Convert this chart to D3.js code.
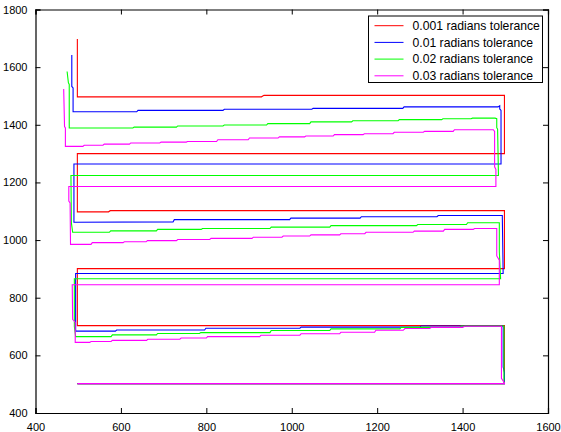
<!DOCTYPE html>
<html>
<head>
<meta charset="utf-8">
<script src="https://cdn.jsdelivr.net/npm/d3@7"></script>
<style>
  body { margin: 0; background: #fff; }
  svg { display: block; font-family: "Liberation Sans", Arial, sans-serif; }
</style>
</head>
<body>
<svg id="chart"></svg>
<script>
const width = 561, height = 432;
const margin = { left: 35.5, right: 13, top: 9.5, bottom: 19 };

const xTicks = [400, 600, 800, 1000, 1200, 1400, 1600];
const yTicks = [400, 600, 800, 1000, 1200, 1400, 1600, 1800];

const seriesNames = ["0.001 radians tolerance", "0.01 radians tolerance", "0.02 radians tolerance", "0.03 radians tolerance"];
const seriesColors = ["#ff0000", "#0000ff", "#00ff00", "#ff00ff"];

// path points [x, y]
const tol001 = [[498,1698],[498,1497],[929,1497],[935,1502],[1498,1502],[1498,1300],[498,1300],[498,1098],[571,1098],[575,1102],[1498,1102],
  [1498,901],[498,901],[498,703],[1498,703],[1498,502],[498,502]];

const tol01 = [[485,1642],[485,1533],[488,1528],[488,1445],[637,1445],[640,1450],[839,1450],[842,1454],[1047,1454],[1050,1457],
  [1260,1457],[1263,1462],[1483,1462],[1487,1466],[1487,1455],[1490,1450],[1490,1264],[490,1264],[490,1062],[722,1063],[725,1071],
  [995,1071],[998,1076],[1160,1076],[1163,1081],[1340,1081],[1343,1085],[1493,1085],[1495,884],[494,884],[494,684],[587,684],[590,688],
  [796,688],[799,694],[1019,694],[1022,698],[1300,698],[1303,702],[1495,702],[1495,560],[1498,540],[1498,502],[498,502]];

const tol02 = [[474,1585],[477,1546],[479,1540],[479,1389],[628,1389],[631,1392],[730,1392],[733,1396],[839,1396],[842,1399],
  [941,1399],[944,1404],[1042,1404],[1045,1410],[1140,1410],[1143,1414],[1249,1414],[1252,1418],[1351,1418],[1354,1421],[1420,1421],
  [1423,1423],[1476,1423],[1480,1421],[1480,1390],[1482,1385],[1484,1224],[483,1224],[484,1060],[487,1027],[573,1027],[576,1032],
  [683,1032],[686,1037],[788,1037],[791,1040],[949,1040],[952,1045],[1089,1045],[1092,1050],[1292,1050],[1295,1054],[1409,1054],
  [1412,1060],[1486,1060],[1486,960],[1489,866],[491,866],[491,700],[494,665],[577,665],[580,671],[683,671],[686,676],[784,676],
  [787,679],[949,679],[952,686],[1089,686],[1092,692],[1253,692],[1256,697],[1394,697],[1397,702],[1497,702],[1497,502],[498,502]];

const tol03 = [[466,1524],[468,1394],[470,1389],[470,1325],[511,1325],[514,1329],[558,1329],[561,1333],[620,1333],[623,1337],
  [691,1337],[694,1340],[753,1340],[756,1342],[824,1342],[827,1348],[898,1348],[901,1354],[968,1354],[971,1358],[1030,1358],
  [1033,1361],[1097,1361],[1100,1366],[1167,1366],[1170,1369],[1237,1369],[1240,1374],[1308,1374],[1311,1377],[1378,1377],
  [1381,1383],[1472,1383],[1475,1377],[1475,1254],[1478,1245],[1478,1186],[478,1186],[478,1135],[481,1129],[482,985],[530,985],
  [533,991],[605,991],[608,994],[659,994],[662,998],[730,998],[733,1002],[808,1002],[811,1006],[907,1006],[910,1010],[977,1010],
  [980,1014],[1042,1014],[1045,1018],[1112,1018],[1115,1022],[1171,1022],[1174,1027],[1284,1027],[1287,1031],[1355,1031],
  [1358,1037],[1425,1037],[1428,1040],[1480,1040],[1480,945],[1486,930],[1486,845],[486,845],[487,725],[493,715],[493,645],
  [527,645],[530,648],[577,648],[580,652],[660,652],[663,656],[738,656],[741,660],[800,660],[803,665],[925,665],[928,670],
  [1019,670],[1022,675],[1112,675],[1115,680],[1194,680],[1197,687],[1261,687],[1265,693],[1323,693],[1327,697],[1400,697],
  [1405,701],[1491,701],[1491,520],[1498,504],[1498,502],[498,502]];

const seriesPaths = [tol001, tol01, tol02, tol03];

const svg = d3.select("#chart")
  .attr("width", width)
  .attr("height", height);

const x = d3.scaleLinear().domain([400, 1600]).range([margin.left, width - margin.right]);
const y = d3.scaleLinear().domain([400, 1800]).range([height - margin.bottom, margin.top]);

const line = d3.line().x(d => x(d[0])).y(d => y(d[1]));

svg.append("g")
  .selectAll("path")
  .data(seriesPaths)
  .enter()
  .append("path")
  .attr("d", line)
  .attr("fill", "none")
  .attr("stroke", (d, i) => seriesColors[i])
  .attr("stroke-width", 1.1);

// axes, matlab style: ticks inside, box on all sides
const tickLen = 5;
const xBottom = svg.append("g")
  .attr("transform", `translate(0,${y(400)})`)
  .call(d3.axisBottom(x).tickValues(xTicks).tickSize(-tickLen).tickPadding(tickLen + 5).tickFormat(d3.format("d")));
const xTop = svg.append("g")
  .attr("transform", `translate(0,${y(1800)})`)
  .call(d3.axisTop(x).tickValues(xTicks).tickSize(-tickLen).tickFormat(""));
const yLeft = svg.append("g")
  .attr("transform", `translate(${x(400)},0)`)
  .call(d3.axisLeft(y).tickValues(yTicks).tickSize(-tickLen).tickPadding(tickLen + 3).tickFormat(d3.format("d")));
const yRight = svg.append("g")
  .attr("transform", `translate(${x(1600)},0)`)
  .call(d3.axisRight(y).tickValues(yTicks).tickSize(-tickLen).tickFormat(""));

[xBottom, xTop, yLeft, yRight].forEach(g => {
  g.selectAll("path.domain").attr("stroke", "#000").attr("stroke-width", 1.2);
  g.selectAll(".tick line").attr("stroke", "#000");
  g.selectAll("text").attr("fill", "#000").style("font-size", "11px")
    .style("font-family", "'Liberation Sans', Arial, sans-serif");
});

// legend
const legend = svg.append("g").attr("transform", "translate(368.5,16)");
legend.append("rect")
  .attr("width", 174)
  .attr("height", 66.5)
  .attr("fill", "#fff")
  .attr("stroke", "#000")
  .attr("stroke-width", 1);

const rows = legend.selectAll("g.row")
  .data(seriesNames)
  .enter()
  .append("g")
  .attr("class", "row")
  .attr("transform", (d, i) => `translate(0,${9.7 + i * 16.7})`);

rows.append("line")
  .attr("x1", 6)
  .attr("x2", 35)
  .attr("stroke", (d, i) => seriesColors[i])
  .attr("stroke-width", 1);

rows.append("text")
  .attr("x", 44)
  .attr("dy", "0.35em")
  .style("font-size", "12.2px")
  .text(d => d);
</script>
</body>
</html>
